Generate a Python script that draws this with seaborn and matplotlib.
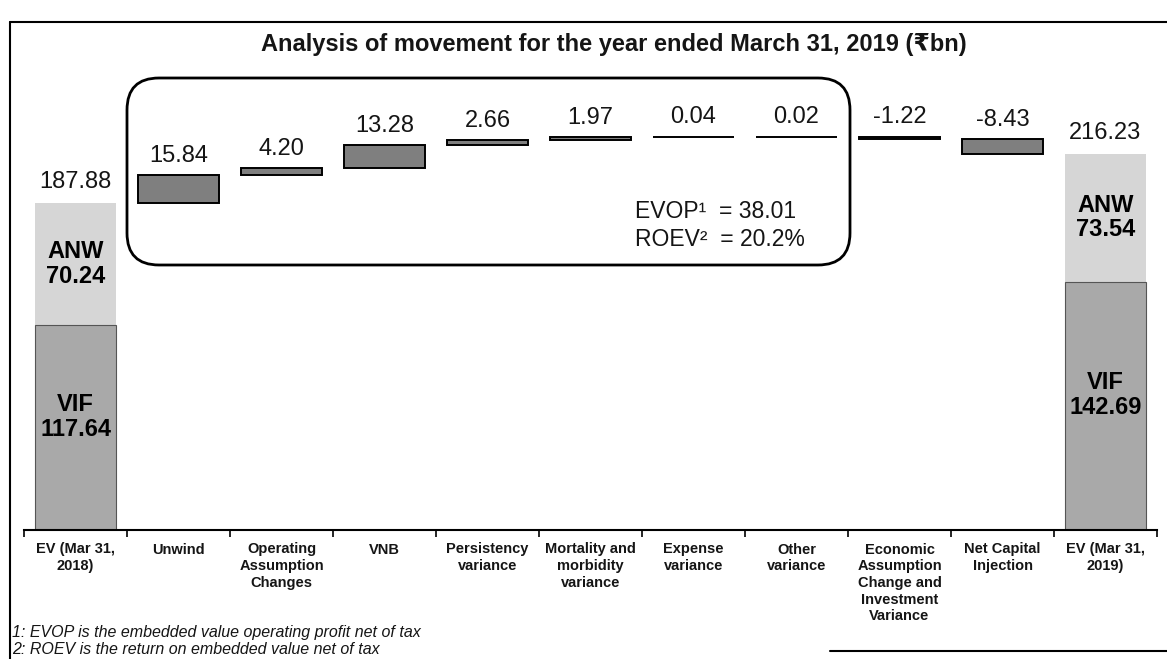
import matplotlib
matplotlib.use("Agg")
import matplotlib.pyplot as plt
from matplotlib.patches import FancyBboxPatch
from matplotlib.lines import Line2D
import numpy as np
import pandas as pd
import seaborn as sns

# ---- data (₹bn) ----
steps = [
    "EV (Mar 31,\n2018)",
    "Unwind",
    "Operating\nAssumption\nChanges",
    "VNB",
    "Persistency\nvariance",
    "Mortality and\nmorbidity\nvariance",
    "Expense\nvariance",
    "Other\nvariance",
    "Economic\nAssumption\nChange and\nInvestment\nVariance",
    "Net Capital\nInjection",
    "EV (Mar 31,\n2019)",
]
opening_vif = 117.64
opening_anw = 70.24
opening_ev = 187.88
movements = [15.84, 4.20, 13.28, 2.66, 1.97, 0.04, 0.02, -1.22, -8.43]
closing_vif = 142.69
closing_anw = 73.54
closing_ev = 216.23
evop = 38.01
roev = 20.2

# ---- style ----
sns.set_style("white")
plt.rcParams["font.family"] = ["Liberation Sans", "DejaVu Sans"]

ANW_C = "#d6d6d6"
VIF_C = "#a9a9a9"
MOVE_C = "#7f7f7f"
INK = "#151515"

# floating bars of the waterfall
bases, heights = [], []
running = opening_ev
for m in movements:
    bases.append(running if m >= 0 else running + m)
    heights.append(abs(m))
    running += m
moves = pd.DataFrame({"step": steps[1:-1], "height": heights, "base": bases})

totals = pd.DataFrame({
    "step": [steps[0], steps[-1]],
    "ev": [opening_ev, closing_ev],
    "vif": [opening_vif, closing_vif],
    "anw": [opening_anw, closing_anw],
})

W, H = 1167, 659
fig = plt.figure(figsize=(W / 100, H / 100), dpi=100)
ax = fig.add_axes([24 / W, (H - 530) / H, (1157 - 24) / W, 430 / H])

bw = 0.78
sns.barplot(data=totals, x="step", y="ev", order=steps, color=ANW_C,
            saturation=1, width=bw, errorbar=None, linewidth=0, ax=ax)
sns.barplot(data=totals, x="step", y="vif", order=steps, color=VIF_C,
            saturation=1, width=bw, errorbar=None, edgecolor="#555555",
            linewidth=0.8, ax=ax)
sns.barplot(data=moves, x="step", y="height", order=steps, color=MOVE_C,
            saturation=1, width=bw, errorbar=None, edgecolor="black",
            linewidth=1.4, bottom=moves["base"].to_numpy(), ax=ax)

ax.set_xlim(-0.5, len(steps) - 0.5)
ax.set_ylim(0, 247)
ax.set_xlabel("")
ax.set_ylabel("")
ax.set_yticks([])
for s in ["left", "right", "top"]:
    ax.spines[s].set_visible(False)
ax.spines["bottom"].set_linewidth(1.5)
ax.spines["bottom"].set_color("black")

ax.set_xticks(np.arange(-0.5, len(steps), 1), minor=True)
ax.tick_params(axis="x", which="minor", length=5, width=1.2, direction="out",
               color="black", bottom=True)
ax.tick_params(axis="x", which="major", length=0, pad=9)
ax.set_xticklabels(steps, fontsize=10.5, fontweight="bold", color=INK,
                   family=["Liberation Sans Narrow", "Liberation Sans"],
                   linespacing=1.25, va="top")

# value labels
lab_kw = dict(ha="center", va="bottom", fontsize=17, color=INK,
              textcoords="offset points")
for i, (m, b, h) in enumerate(zip(movements, bases, heights), start=1):
    ax.annotate(f"{m:.2f}", (i, b + h), xytext=(0, 6), **lab_kw)
ax.annotate(f"{opening_ev:.2f}", (0, opening_ev), xytext=(0, 7), **lab_kw)
ax.annotate(f"{closing_ev:.2f}", (len(steps) - 1, closing_ev), xytext=(0, 7), **lab_kw)

seg_kw = dict(ha="center", va="center", fontsize=17, fontweight="bold",
              color="black", linespacing=1.1)
for pos, vif, anw in [(0, opening_vif, opening_anw),
                      (len(steps) - 1, closing_vif, closing_anw)]:
    ax.text(pos, vif + anw / 2, f"ANW\n{anw:.2f}", **seg_kw)
    ax.text(pos, vif / 2 + 6, f"VIF\n{vif:.2f}", **seg_kw)

# title
fig.text(614 / W, 1 - 45 / H,
         "Analysis of movement for the year ended March 31, 2019 (\u20b9bn)",
         ha="center", va="center", fontsize=17, fontweight="bold", color=INK)

# rounded call-out around the operating items
px = fig.dpi_scale_trans
box = FancyBboxPatch((127 / 100, (H - 265) / 100), (850 - 127) / 100, (265 - 78) / 100,
                     boxstyle="round,pad=0,rounding_size=0.32", transform=px,
                     fill=False, edgecolor="black", linewidth=2, zorder=5)
fig.patches.append(box)
fig.text(635 / W, 1 - 211 / H, f"EVOP\u00b9  = {evop:.2f}", ha="left", va="center",
         fontsize=16.5, color=INK)
fig.text(635 / W, 1 - 240 / H, f"ROEV\u00b2  = {roev:.1f}%", ha="left", va="center",
         fontsize=16.5, color=INK)

# footnotes
fig.text(12 / W, 1 - 632 / H, "1: EVOP is the embedded value operating profit net of tax",
         ha="left", va="center", fontsize=11.5, style="italic", color=INK)
fig.text(12 / W, 1 - 649 / H, "2: ROEV is the return on embedded value net of tax",
         ha="left", va="center", fontsize=11.5, style="italic", color=INK)

# page frame
for xs, ys in [([10, W], [22, 22]), ([10, 10], [22, H]), ([830, W], [651, 651])]:
    fig.lines.append(Line2D([x / 100 for x in xs], [(H - y) / 100 for y in ys],
                            transform=px, color="black", linewidth=1.5))

fig.savefig("out.png", dpi=100)
